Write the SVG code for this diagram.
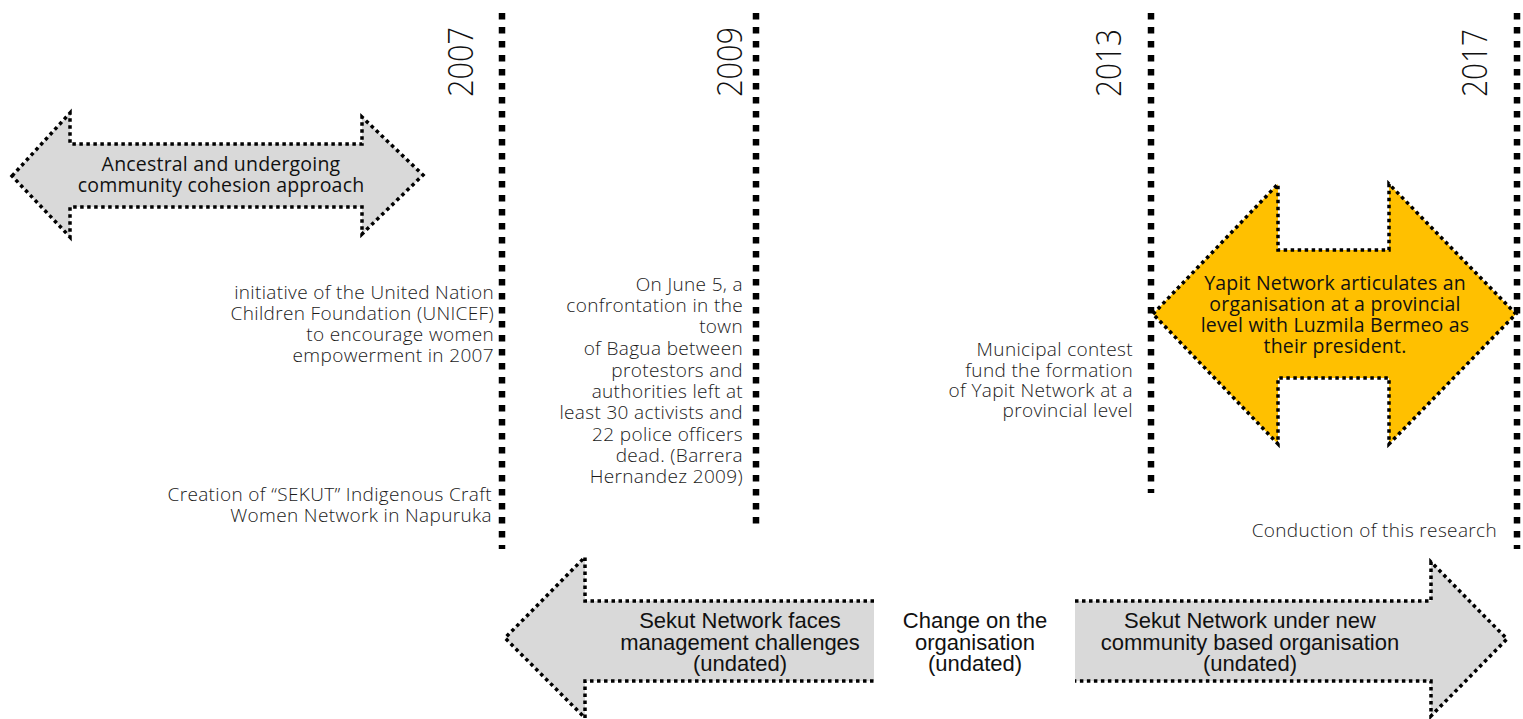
<svg xmlns="http://www.w3.org/2000/svg" width="1523" height="719" viewBox="0 0 1523 719">
<style>
.vline{stroke:#000;stroke-width:6.5;stroke-dasharray:6.5 7.5;fill:none}
.year{font-family:"Open Sans","Liberation Sans",sans-serif;font-weight:300;font-size:35px;fill:#111}
.lt{font-family:"Open Sans","Liberation Sans",sans-serif;font-weight:300;font-size:19px;letter-spacing:0.35px;fill:#1a1a1a;text-anchor:end}
.gray{fill:#d9d9d9;stroke:none}
.yel{fill:#ffc000;stroke:none}
.dot{fill:none;stroke:#000;stroke-width:3.5;stroke-dasharray:3.5 3.5}
.at{font-family:"Open Sans","Liberation Sans",sans-serif;font-weight:400;font-size:19.5px;letter-spacing:0.2px;fill:#111;text-anchor:middle}
.bt{font-family:"Liberation Sans",Arial,sans-serif;font-size:22px;fill:#111;text-anchor:middle}
</style>

<g id="timeline-markers">
  <line class="vline" x1="502" y1="13" x2="502" y2="549"/>
  <line class="vline" x1="756" y1="13" x2="756" y2="531"/>
  <line class="vline" x1="1151" y1="13" x2="1151" y2="493"/>
  <line class="vline" x1="1517" y1="13" x2="1517" y2="549"/>
</g>

<g id="year-2007">
  <text class="year" transform="translate(473,97) rotate(-90)" textLength="70" lengthAdjust="spacingAndGlyphs">2007</text>
</g>
<g id="year-2009">
  <text class="year" transform="translate(742,97) rotate(-90)" textLength="70" lengthAdjust="spacingAndGlyphs">2009</text>
</g>
<g id="year-2013">
  <text class="year" transform="translate(1121,97) rotate(-90)" textLength="68" lengthAdjust="spacingAndGlyphs">2013</text>
</g>
<g id="year-2017">
  <text class="year" transform="translate(1487,97) rotate(-90)" textLength="68" lengthAdjust="spacingAndGlyphs">2017</text>
</g>

<g id="ancestral-arrow">
  <polygon class="gray" points="12,176 70,113 70,144 362,144 362,117 423,175 362,234 362,207 70,207 70,237"/>
  <polygon class="dot" points="12,176 70,113 70,144 362,144 362,117 423,175 362,234 362,207 70,207 70,237"/>
  <text class="at" x="221" y="171">Ancestral and undergoing</text>
  <text class="at" x="221" y="192">community cohesion approach</text>
</g>

<g id="unicef-note">
  <text class="lt" x="494" y="299">initiative of the United Nation</text>
  <text class="lt" x="494" y="320">Children Foundation (UNICEF)</text>
  <text class="lt" x="494" y="341">to encourage women</text>
  <text class="lt" x="494" y="362">empowerment in 2007</text>
</g>

<g id="sekut-creation-note">
  <text class="lt" x="492" y="501">Creation of “SEKUT” Indigenous Craft</text>
  <text class="lt" x="492" y="522">Women Network in Napuruka</text>
</g>

<g id="bagua-note">
  <text class="lt" x="743" y="291">On June 5, a</text>
  <text class="lt" x="743" y="312">confrontation in the</text>
  <text class="lt" x="743" y="333">town</text>
  <text class="lt" x="743" y="355">of Bagua between</text>
  <text class="lt" x="743" y="377">protestors and</text>
  <text class="lt" x="743" y="398">authorities left at</text>
  <text class="lt" x="743" y="419">least 30 activists and</text>
  <text class="lt" x="743" y="441">22 police officers</text>
  <text class="lt" x="743" y="462">dead. (Barrera</text>
  <text class="lt" x="743" y="483">Hernandez 2009)</text>
</g>

<g id="municipal-note">
  <text class="lt" x="1133" y="356">Municipal contest</text>
  <text class="lt" x="1133" y="377">fund the formation</text>
  <text class="lt" x="1133" y="397">of Yapit Network at a</text>
  <text class="lt" x="1133" y="417">provincial level</text>
</g>

<g id="yapit-arrow">
  <polygon class="yel" points="1153,314 1278,184 1278,250 1389,250 1389,184 1516,314 1389,444 1389,378 1278,378 1278,444"/>
  <polygon class="dot" points="1153,314 1278,184 1278,250 1389,250 1389,184 1516,314 1389,444 1389,378 1278,378 1278,444"/>
  <text class="at" x="1335" y="290">Yapit Network articulates an</text>
  <text class="at" x="1335" y="311">organisation at a provincial</text>
  <text class="at" x="1335" y="332">level with Luzmila Bermeo as</text>
  <text class="at" x="1335" y="353">their president.</text>
</g>

<g id="research-note">
  <text class="lt" x="1497" y="537">Conduction of this research</text>
</g>

<g id="sekut-challenges-arrow">
  <polygon class="gray" points="874,601 585,601 585,557 505,638 585,718 585,681 874,681"/>
  <polyline class="dot" points="874,601 585,601 585,557 505,638 585,718 585,681 874,681"/>
  <text class="bt" x="740" y="628">Sekut Network faces</text>
  <text class="bt" x="740" y="650">management challenges</text>
  <text class="bt" x="740" y="671">(undated)</text>
</g>

<g id="change-note">
  <text class="bt" x="975" y="628">Change on the</text>
  <text class="bt" x="975" y="650">organisation</text>
  <text class="bt" x="975" y="671">(undated)</text>
</g>

<g id="sekut-new-arrow">
  <polygon class="gray" points="1075,601 1431,601 1431,562 1507,639 1431,716 1431,681 1075,681"/>
  <polyline class="dot" points="1075,601 1431,601 1431,562 1507,639 1431,716 1431,681 1075,681"/>
  <text class="bt" x="1250" y="628">Sekut Network under new</text>
  <text class="bt" x="1250" y="650">community based organisation</text>
  <text class="bt" x="1250" y="671">(undated)</text>
</g>
</svg>
